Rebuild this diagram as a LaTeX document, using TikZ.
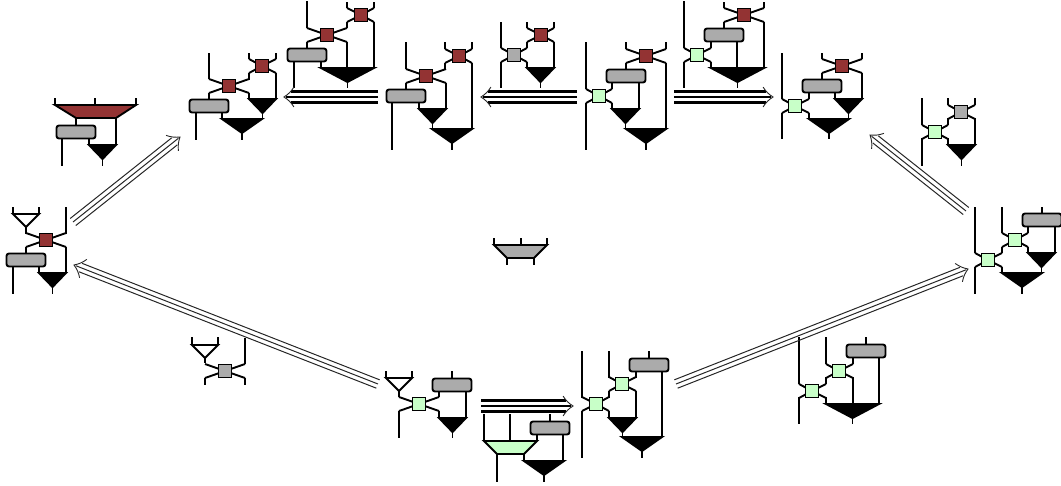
\documentclass[tikz,border=0pt]{standalone}
\usetikzlibrary{calc}
\definecolor{dred}{HTML}{933333}
\definecolor{mgrey}{HTML}{ABABAB}
\definecolor{lgreen}{HTML}{C8FFC8}
\tikzset{
  wire/.style={line width=1.9pt,line join=miter,black},
  sqnode/.style={draw=black,line width=1.9pt,minimum size=13pt,inner sep=0pt,outer sep=0pt,shape=rectangle},
  boxnode/.style={draw=black,fill=mgrey,line width=1.9pt,rounded corners=2.5pt,minimum width=39pt,minimum height=13pt,inner sep=0pt,shape=rectangle},
  thinarrow/.style={line width=1.0pt,black!85},
  thickarrow/.style={line width=2.1pt,black},
  headline/.style={line width=0.9pt,black!85},
}
% square with its four legs: name, x, y, fill, left x, right x
\newcommand{\crs}[6]{%
  \draw[wire] (#5,#3-7) -- (#2,#3) -- (#6,#3+7) (#5,#3+7) -- (#2,#3) -- (#6,#3-7);
  \node[sqnode,fill=#4] (#1) at (#2,#3) {};}
% grey box: name, centre x, centre y
\newcommand{\gb}[3]{\node[boxnode] (#1) at (#2,#3) {};}
% black triangle: left x, right x, top y, stem end y
\newcommand{\btr}[4]{%
  \draw[wire] ({(#1+#2)/2},#3+13) -- ({(#1+#2)/2},#4);
  \draw[wire,fill=black] (#1,#3) -- (#2,#3) -- ({(#1+#2)/2},#3+14) -- cycle;}
% triple arrow: start coordinate, tip coordinate, style, half spacing
\newcommand{\triplearrow}[4]{%
  \coordinate (ea) at ($(#2)!7pt!(#1)$);
  \coordinate (eb) at ($(#2)!2pt!(#1)$);
  \draw[#3] (#1) -- (eb);
  \draw[#3] ($(#1)!#4!90:(#2)$) -- ($(ea)!#4!-90:(#1)$);
  \draw[#3] ($(#1)!#4!-90:(#2)$) -- ($(ea)!#4!90:(#1)$);
  \draw[headline] ($(#2)!14pt!45:(#1)$) to[bend left=12] (#2) to[bend left=12] ($(#2)!14pt!-45:(#1)$);}
\begin{document}
\begin{tikzpicture}[x=1pt,y=-1pt]
\useasboundingbox (0,0) rectangle (1061,485);

% D1 far left
\draw[wire] (13,207) -- (13,214) (39,207) -- (39,214) (26,227) -- (26,234);
\draw[wire,fill=white] (13,214) -- (39,214) -- (26,227) -- cycle;
\draw[wire] (66,207) -- (66,234) (26,247) -- (26,253) (66,247) -- (66,273);
\draw[wire] (13,267) -- (13,294) (39,267) -- (39,273);
\crs{da}{46}{240}{dred}{26}{66}
\gb{db}{26}{260}
\btr{39}{66}{273}{294}

% D2 red trapezoid
\draw[wire] (55,98) -- (55,105) (95,98) -- (95,105) (136,98) -- (136,105);
\draw[wire] (76,118) -- (76,125) (116,118) -- (116,145);
\draw[wire,fill=dred] (55,105) -- (136,105) -- (116,118) -- (76,118) -- cycle;
\draw[wire] (62,139) -- (62,166) (89,139) -- (89,145);
\gb{dc}{76}{132}
\btr{89}{116}{145}{166}

% D3
\draw[wire] (249,53) -- (249,59) (276,53) -- (276,59) (249,73) -- (249,80) (276,73) -- (276,99);
\draw[wire] (209,53) -- (209,79) (209,93) -- (209,99) (249,93) -- (249,99);
\draw[wire] (196,113) -- (196,140) (222,113) -- (222,119);
\crs{dd}{262}{66}{dred}{249}{276}
\crs{de}{229}{86}{dred}{209}{249}
\gb{df}{209}{106}
\btr{249}{276}{99}{119}
\btr{222}{262}{119}{140}

% D4
\draw[wire] (347,2) -- (347,8) (374,2) -- (374,8) (347,22) -- (347,28) (374,22) -- (374,68);
\draw[wire] (307,1) -- (307,28) (307,42) -- (307,48) (347,42) -- (347,68);
\draw[wire] (294,62) -- (294,88) (321,62) -- (321,68);
\crs{dg}{361}{15}{dred}{347}{374}
\crs{dh}{327}{35}{dred}{307}{347}
\gb{di}{307}{55}
\btr{321}{374}{68}{88}

% D5
\draw[wire] (445,42) -- (445,49) (472,42) -- (472,49) (445,63) -- (445,70) (472,63) -- (472,129);
\draw[wire] (406,42) -- (406,69) (406,83) -- (406,89) (446,83) -- (446,109);
\draw[wire] (392,103) -- (392,150) (419,103) -- (419,109);
\crs{dj}{459}{56}{dred}{445}{472}
\crs{dk}{426}{76}{dred}{406}{446}
\gb{dl}{406}{96}
\btr{419}{446}{109}{129}
\btr{432}{472}{129}{150}

% D6
\draw[wire] (527,22) -- (527,28) (554,22) -- (554,28) (527,42) -- (527,48) (554,42) -- (554,68);
\draw[wire] (501,22) -- (501,48) (501,62) -- (501,88) (527,62) -- (527,68);
\crs{dm}{541}{35}{dred}{527}{554}
\crs{dn}{514}{55}{mgrey}{501}{527}
\btr{527}{554}{68}{88}

% D7
\draw[wire] (626,42) -- (626,49) (666,42) -- (666,49) (626,63) -- (626,69) (666,63) -- (666,129);
\draw[wire] (586,42) -- (586,89) (586,103) -- (586,150) (612,83) -- (612,89) (612,103) -- (612,109);
\draw[wire] (639,83) -- (639,109);
\crs{do}{646}{56}{dred}{626}{666}
\crs{dp}{599}{96}{lgreen}{586}{612}
\gb{dq}{626}{76}
\btr{612}{639}{109}{129}
\btr{626}{666}{129}{150}

% D8
\draw[wire] (724,2) -- (724,8) (764,2) -- (764,8) (724,22) -- (724,28) (764,22) -- (764,68);
\draw[wire] (684,1) -- (684,48) (684,62) -- (684,88) (711,42) -- (711,48) (711,62) -- (711,68);
\draw[wire] (737,42) -- (737,68);
\crs{dr}{744}{15}{dred}{724}{764}
\crs{ds}{697}{55}{lgreen}{684}{711}
\gb{dt}{724}{35}
\btr{711}{764}{68}{88}

% D9
\draw[wire] (822,53) -- (822,59) (862,53) -- (862,59) (822,73) -- (822,79) (862,73) -- (862,99);
\draw[wire] (782,53) -- (782,99) (782,113) -- (782,139) (809,93) -- (809,99) (809,113) -- (809,119);
\draw[wire] (835,93) -- (835,99);
\crs{du}{842}{66}{dred}{822}{862}
\crs{dv}{795}{106}{lgreen}{782}{809}
\gb{dw}{822}{86}
\btr{835}{862}{99}{119}
\btr{809}{849}{119}{139}

% D10
\draw[wire] (948,98) -- (948,105) (975,98) -- (975,105) (948,118) -- (948,125) (975,118) -- (975,145);
\draw[wire] (922,98) -- (922,125) (922,138) -- (922,166) (948,138) -- (948,145);
\crs{dx}{961}{112}{mgrey}{948}{975}
\crs{dy}{935}{132}{lgreen}{922}{948}
\btr{948}{975}{145}{166}

% D11
\draw[wire] (1042,207) -- (1042,214) (1002,207) -- (1002,233) (1028,227) -- (1028,233);
\draw[wire] (1002,247) -- (1002,253) (1028,247) -- (1028,253) (1055,227) -- (1055,253);
\draw[wire] (975,207) -- (975,253) (975,267) -- (975,294) (1002,267) -- (1002,273);
\crs{dz}{1015}{240}{lgreen}{1002}{1028}
\crs{ea1}{988}{260}{lgreen}{975}{1002}
\gb{eb1}{1042}{220}
\btr{1028}{1055}{253}{273}
\btr{1002}{1042}{273}{294}

% D12 centre
\draw[wire] (494,238) -- (494,245) (521,238) -- (521,245) (547,238) -- (547,245);
\draw[wire] (507,258) -- (507,265) (534,258) -- (534,265);
\draw[wire,fill=mgrey] (494,245) -- (547,245) -- (534,258) -- (507,258) -- cycle;

% D13
\draw[wire] (192,337) -- (192,345) (218,337) -- (218,345) (205,357) -- (205,363);
\draw[wire,fill=white] (192,345) -- (218,345) -- (205,358) -- cycle;
\draw[wire] (245,338) -- (245,364) (205,378) -- (205,385) (245,378) -- (245,385);
\crs{ec}{225}{371}{mgrey}{205}{245}

% D14
\draw[wire] (386,371) -- (386,378) (412,371) -- (412,378) (399,391) -- (399,397);
\draw[wire,fill=white] (386,378) -- (412,378) -- (399,391) -- cycle;
\draw[wire] (452,371) -- (452,378) (439,392) -- (439,397) (399,411) -- (399,438) (439,411) -- (439,418);
\draw[wire] (466,392) -- (466,418);
\crs{ed}{419}{404}{lgreen}{399}{439}
\gb{ee}{452}{385}
\btr{439}{466}{418}{438}

% D15
\draw[wire] (484,414) -- (484,441) (510,414) -- (510,441) (537,434) -- (537,441);
\draw[wire] (550,414) -- (550,421) (563,434) -- (563,461);
\draw[wire] (497,454) -- (497,482) (524,454) -- (524,461);
\draw[wire,fill=lgreen] (484,441) -- (537,441) -- (524,454) -- (497,454) -- cycle;
\gb{ef}{550}{428}
\btr{524}{564}{461}{482}

% D16
\draw[wire] (649,351) -- (649,358) (609,351) -- (609,378) (636,372) -- (636,378);
\draw[wire] (609,391) -- (609,398) (636,391) -- (636,418) (662,372) -- (662,437);
\draw[wire] (582,351) -- (582,398) (582,411) -- (582,458) (609,411) -- (609,418);
\crs{eg}{622}{384}{lgreen}{609}{636}
\crs{eh}{596}{404}{lgreen}{582}{609}
\gb{ei}{649}{365}
\btr{609}{636}{418}{437}
\btr{622}{662}{437}{458}

% D17
\draw[wire] (866,337) -- (866,344) (826,337) -- (826,364) (853,357) -- (853,364);
\draw[wire] (826,377) -- (826,384) (853,377) -- (853,404) (879,357) -- (879,404);
\draw[wire] (799,337) -- (799,384) (799,397) -- (799,424) (826,397) -- (826,404);
\crs{ej}{839}{371}{lgreen}{826}{853}
\crs{ek}{812}{391}{lgreen}{799}{826}
\gb{el}{866}{351}
\btr{826}{879}{404}{424}

% arrows
\coordinate (a1s) at (73,222);   \coordinate (a1t) at (180,137);
\coordinate (a2s) at (966,211);  \coordinate (a2t) at (870,135);
\coordinate (a3s) at (378,384);  \coordinate (a3t) at (74,265);
\coordinate (a4s) at (676,384);  \coordinate (a4t) at (968,269);
\coordinate (a5s) at (378,97);   \coordinate (a5t) at (284,97);
\coordinate (a6s) at (577,97);   \coordinate (a6t) at (481,97);
\coordinate (a7s) at (674,97);   \coordinate (a7t) at (773,97);
\coordinate (a8s) at (481,406);  \coordinate (a8t) at (573,406);
\triplearrow{a1s}{a1t}{thinarrow}{4.5pt}
\triplearrow{a2s}{a2t}{thinarrow}{4.5pt}
\triplearrow{a3s}{a3t}{thinarrow}{4.5pt}
\triplearrow{a4s}{a4t}{thinarrow}{4.5pt}
\triplearrow{a5s}{a5t}{thickarrow}{5.5pt}
\triplearrow{a6s}{a6t}{thickarrow}{5.5pt}
\triplearrow{a7s}{a7t}{thickarrow}{5.5pt}
\triplearrow{a8s}{a8t}{thickarrow}{5.5pt}
\end{tikzpicture}
\end{document}
